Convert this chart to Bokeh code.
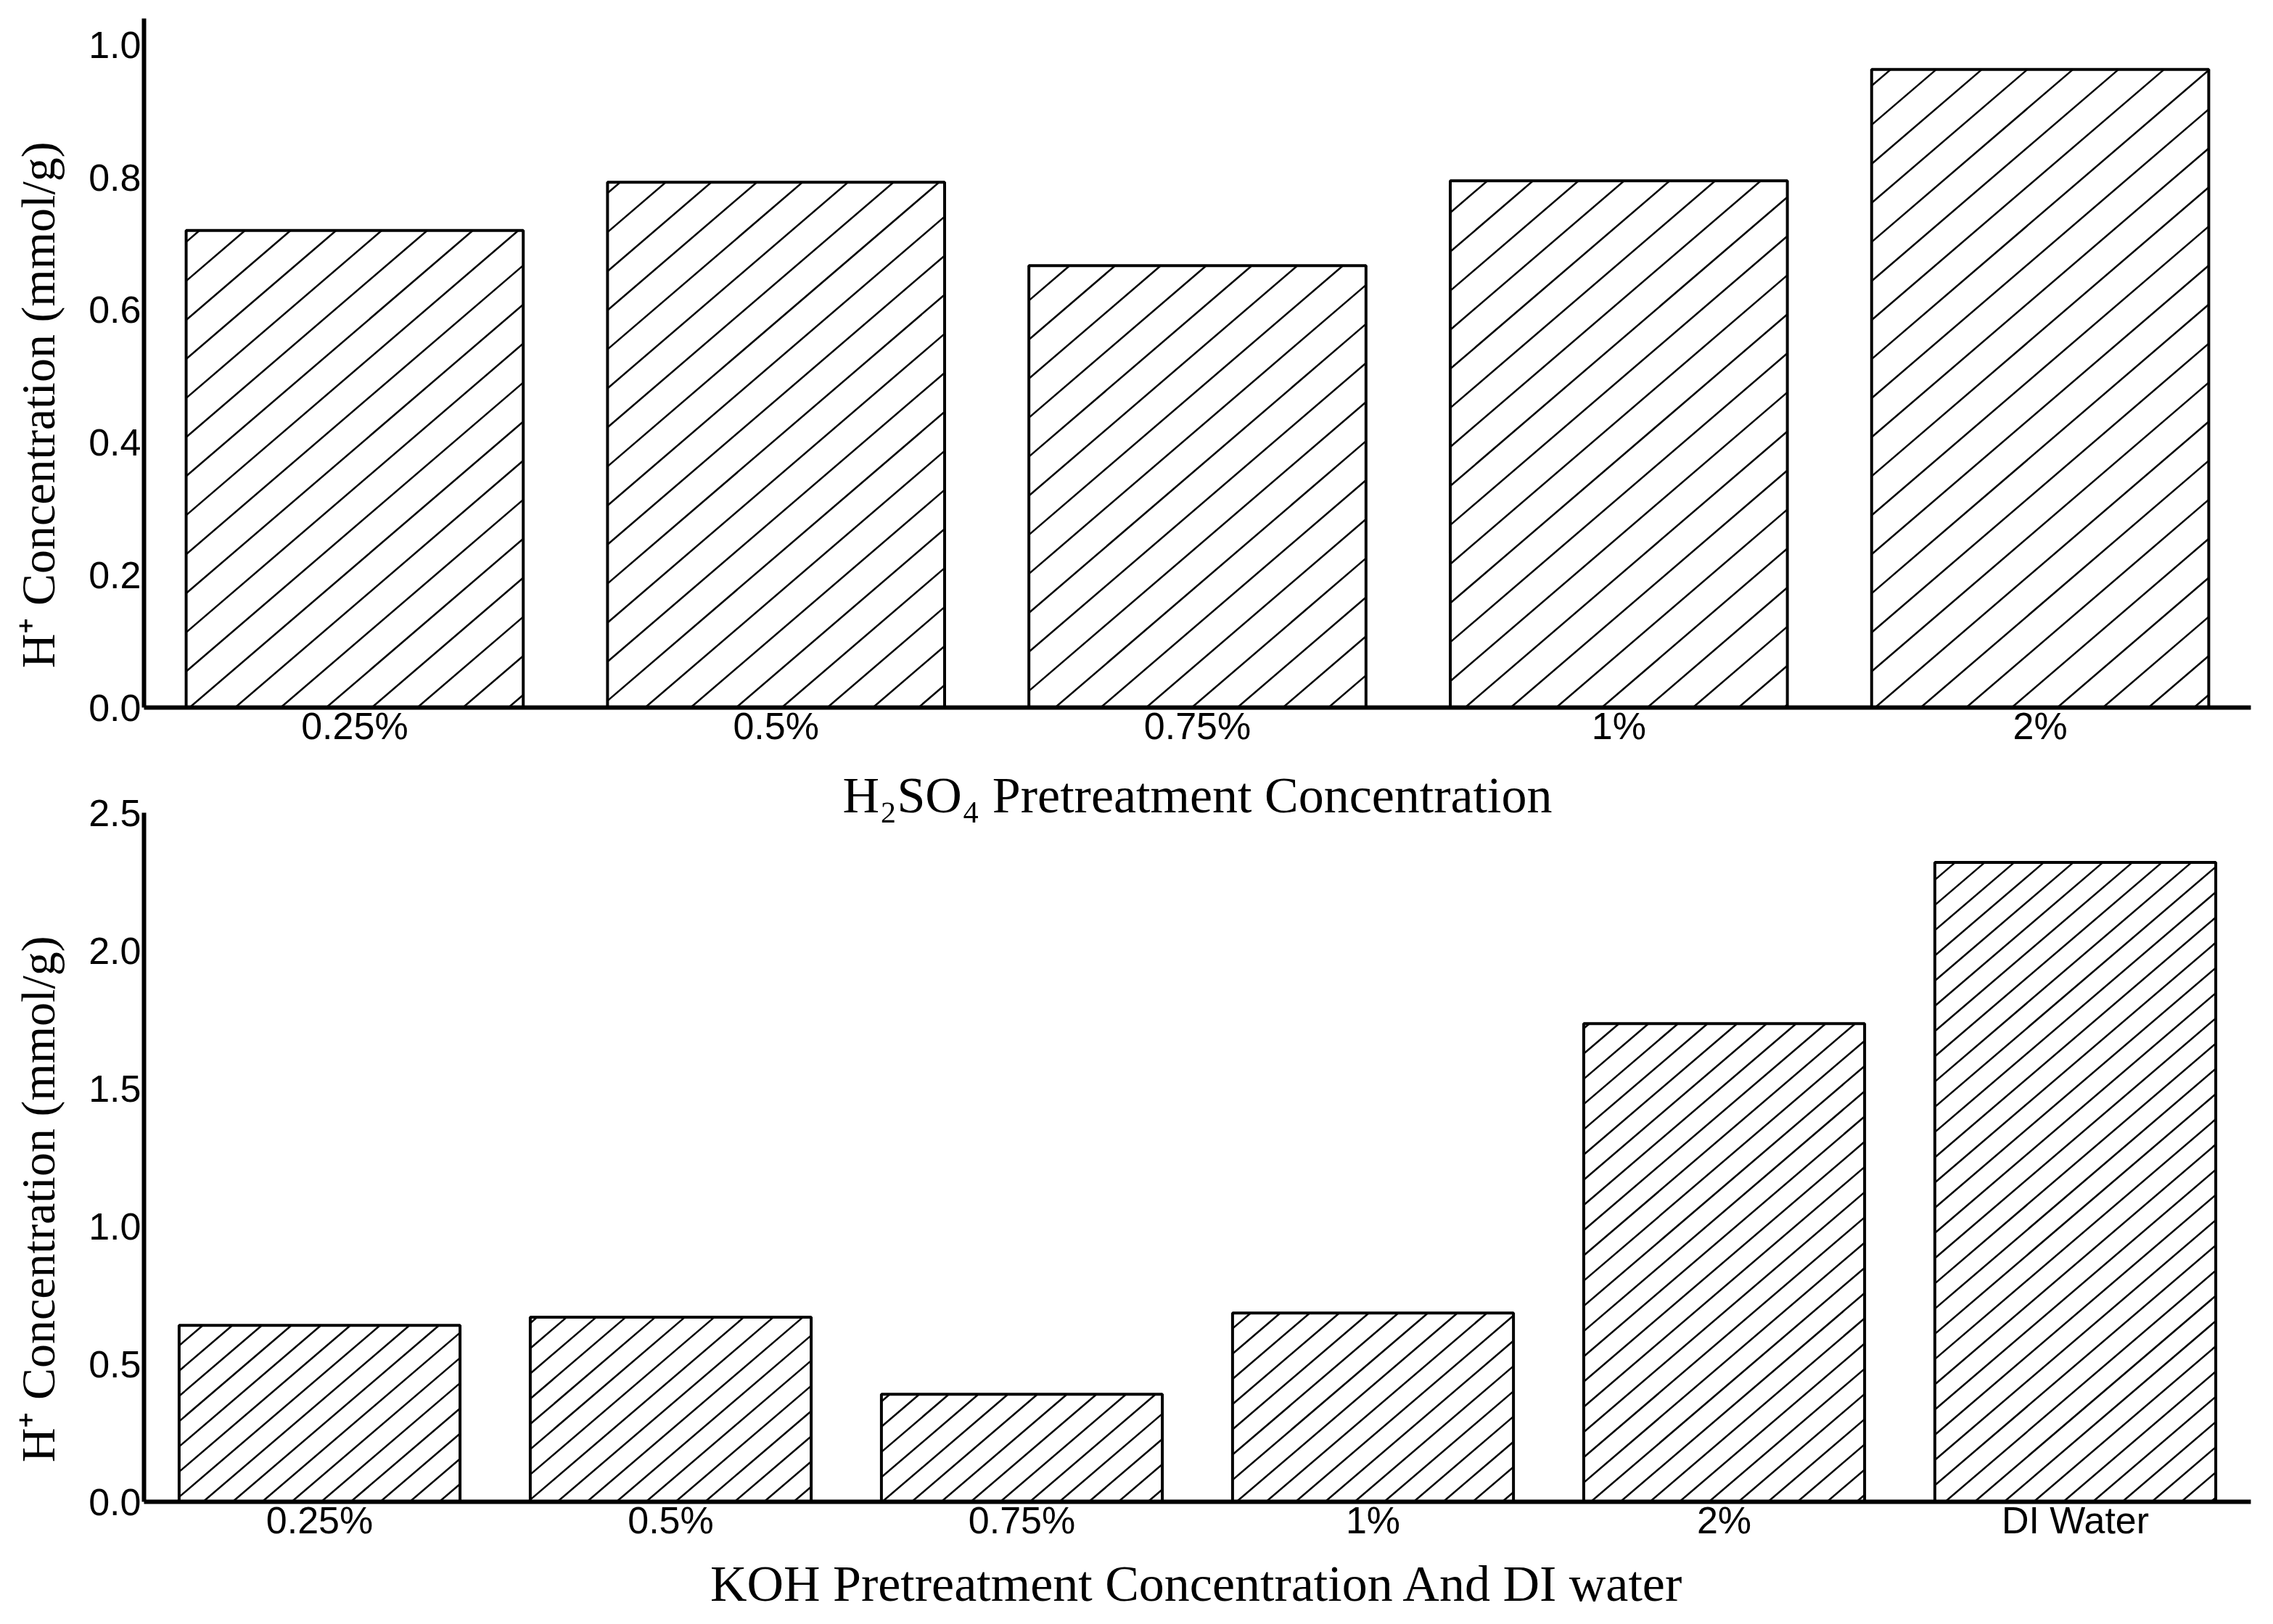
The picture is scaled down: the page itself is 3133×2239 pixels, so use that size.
from bokeh.plotting import figure
from bokeh.layouts import column
from bokeh.models import FactorRange, Range1d, FixedTicker, ColumnDataSource, NumeralTickFormatter
from bokeh.embed import file_html
from bokeh.resources import INLINE

# ---------------- data ----------------
h2so4_categories = ["0.25%", "0.5%", "0.75%", "1%", "2%"]
h2so4_values = [0.72, 0.793, 0.667, 0.795, 0.963]
h2so4_ticks = [0.0, 0.2, 0.4, 0.6, 0.8, 1.0]

koh_categories = ["0.25%", "0.5%", "0.75%", "1%", "2%", "DI Water"]
koh_values = [0.64, 0.67, 0.39, 0.685, 1.735, 2.32]
koh_ticks = [0.0, 0.5, 1.0, 1.5, 2.0, 2.5]

# trailing no-break spaces nudge the rotated label down along the axis
y_label = "H\u207a Concentration (mmol/g)" + "\u00a0" * 7
top_x_label = "H\u2082SO\u2084 Pretreatment Concentration"
bottom_x_label = "KOH Pretreatment Concentration And DI water"

BAR_WIDTH = 0.8
PLOT_W = 3117
BORDER_L, BORDER_R = 198, 15
HATCH_SCREEN_SLOPE = 0.86


def hatch_segments(values, slope, step):
    """Diagonal hatch lines y = slope*x + b (data units, categorical synthetic x)
    clipped to every bar rectangle."""
    xs0, ys0, xs1, ys1 = [], [], [], []
    for i, v in enumerate(values):
        left = i + 0.5 - BAR_WIDTH / 2
        right = i + 0.5 + BAR_WIDTH / 2
        n0 = int((0 - slope * right) // step) - 1
        n1 = int((v - slope * left) // step) + 1
        for n in range(n0, n1 + 1):
            b = n * step
            xa = max(left, (0 - b) / slope)
            xb = min(right, (v - b) / slope)
            if xb - xa > 1e-6:
                xs0.append(xa); ys0.append(slope * xa + b)
                xs1.append(xb); ys1.append(slope * xb + b)
    return dict(x0=xs0, y0=ys0, x1=xs1, y1=ys1)


def make_plot(categories, values, ticks, y_end, x_label, height,
              min_top, min_bottom, hatch_px, label_standoff, title_standoff):
    p = figure(x_range=FactorRange(*categories), y_range=Range1d(0, y_end),
               width=PLOT_W, height=height, output_backend="svg",
               toolbar_location=None,
               min_border_left=BORDER_L, min_border_right=BORDER_R,
               min_border_top=min_top, min_border_bottom=min_bottom)
    src = ColumnDataSource(dict(cat=categories, val=values))
    p.vbar(x="cat", top="val", width=BAR_WIDTH, source=src,
           fill_color="white", line_color="black", line_width=4)

    # hatch lines (screen slope ~0.86), converted to data units
    frame_w = PLOT_W - BORDER_L - BORDER_R
    frame_h = height - min_top - min_bottom
    px_x = frame_w / len(categories)
    px_y = frame_h / y_end
    slope = HATCH_SCREEN_SLOPE * px_x / px_y
    step = hatch_px / px_y
    hs = ColumnDataSource(hatch_segments(values, slope, step))
    p.segment(x0="x0", y0="y0", x1="x1", y1="y1", source=hs,
              line_color="black", line_width=2.5)

    p.xgrid.visible = False
    p.ygrid.visible = False
    p.outline_line_color = None

    for ax in (p.xaxis, p.yaxis):
        ax.major_tick_in = 0
        ax.major_tick_out = 0
        ax.minor_tick_in = 0
        ax.minor_tick_out = 0
        ax.axis_line_color = "black"
        ax.axis_line_width = 6
        ax.major_label_text_font = "Liberation Sans"
        ax.major_label_text_font_size = "52px"
        ax.major_label_text_color = "black"
        ax.axis_label_text_font = "Liberation Serif"
        ax.axis_label_text_font_style = "normal"
        ax.axis_label_text_color = "black"

    p.yaxis.ticker = FixedTicker(ticks=ticks)
    p.yaxis.formatter = NumeralTickFormatter(format="0.0")
    p.yaxis.major_label_standoff = 4
    p.xaxis.major_label_standoff = label_standoff

    p.yaxis.axis_label = y_label
    p.yaxis.axis_label_text_font_size = "66px"
    p.yaxis.axis_label_standoff = 30

    p.xaxis.axis_label = x_label
    p.xaxis.axis_label_text_font_size = "70px"
    p.xaxis.axis_label_standoff = title_standoff
    return p


p1 = make_plot(h2so4_categories, h2so4_values, h2so4_ticks, 1.04, top_x_label,
               height=1137, min_top=25, min_bottom=159, hatch_px=54,
               label_standoff=-4, title_standoff=25)

p2 = make_plot(koh_categories, koh_values, koh_ticks, 2.5, bottom_x_label,
               height=1139, min_top=35, min_bottom=148, hatch_px=35,
               label_standoff=-4, title_standoff=17)
p2.border_fill_alpha = 0
p2.background_fill_alpha = 0
p2.margin = (-52, 0, 0, 0)

layout = column(p1, p2)

open("out.html", "w").write(file_html(layout, INLINE))
